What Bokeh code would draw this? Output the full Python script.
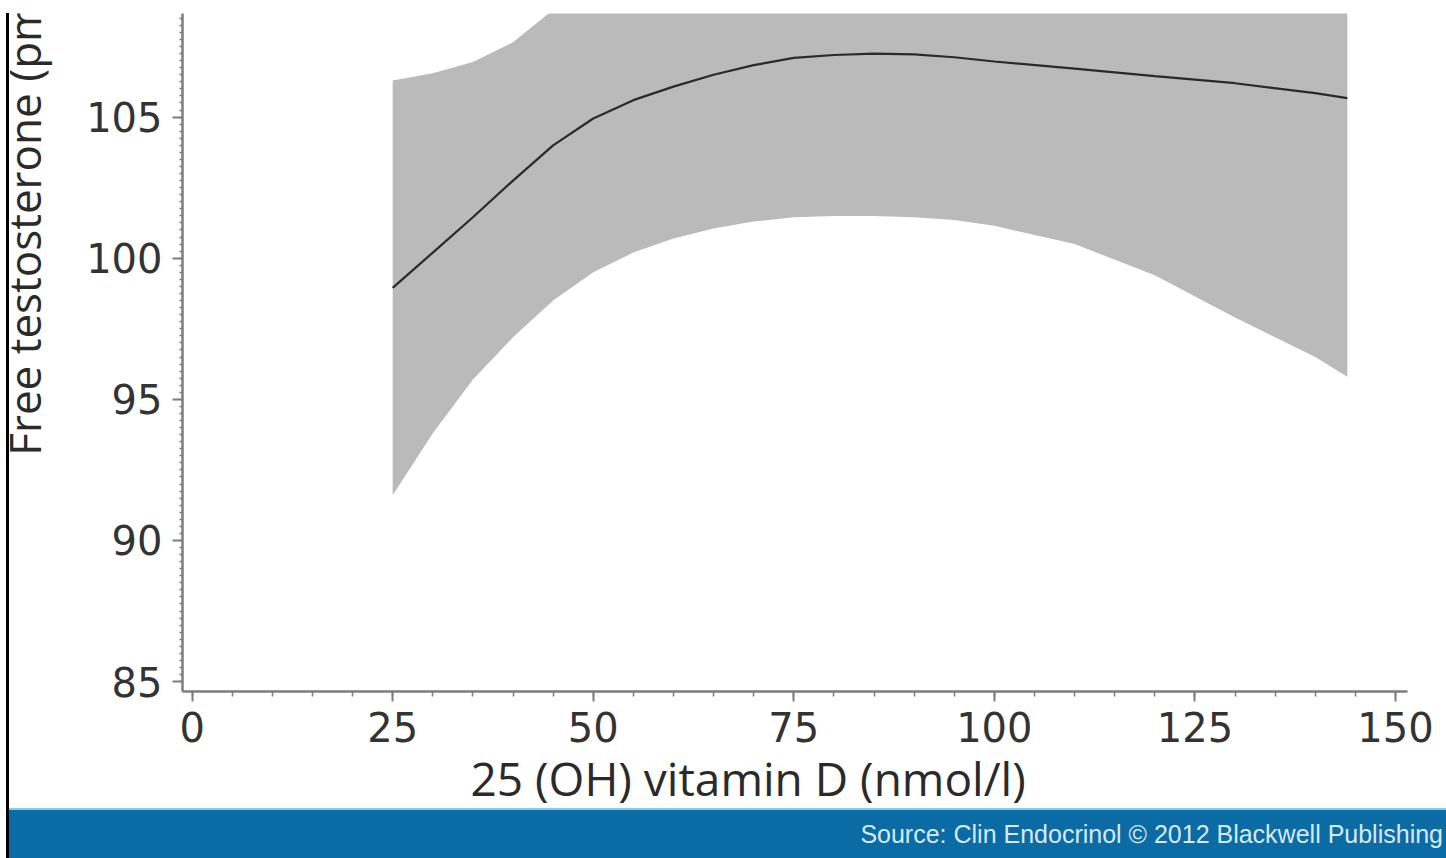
import math
from bokeh.plotting import figure
from bokeh.models import Range1d, Div, FixedTicker, Title
from bokeh.core.properties import value
from bokeh.layouts import row, column
from bokeh.embed import file_html
from bokeh.resources import INLINE

# ---- data ----
vitd = [25, 30, 35, 40, 45, 50, 55, 60, 65, 70, 75, 80, 85, 90, 95, 100, 110, 120, 130, 140, 144]
free_t = [98.95, 100.2, 101.45, 102.75, 104.0, 104.95, 105.6, 106.08, 106.5, 106.84, 107.1, 107.2,
          107.25, 107.22, 107.12, 106.97, 106.72, 106.45, 106.2, 105.85, 105.67]
ci_lower = [91.6, 93.8, 95.7, 97.2, 98.5, 99.5, 100.2, 100.7, 101.05, 101.3, 101.45, 101.5,
            101.5, 101.45, 101.35, 101.15, 100.5, 99.4, 97.9, 96.5, 95.8]
ci_upper = [106.3, 106.55, 106.95, 107.65, 108.8, 109.6, 110.2, 110.6, 111.0, 111.3, 111.5, 111.6,
            111.6, 111.5, 111.4, 111.3, 111.5, 112.2, 113.2, 114.5, 115.0]
x_ticks = [0, 25, 50, 75, 100, 125, 150]
y_ticks = [85, 90, 95, 100, 105]
x_minor = list(range(0, 151, 5))
y_minor = [85 + 0.25 * i for i in range(0, 96)]

x_title = "25 (OH) vitamin D (nmol/l)"
y_title = "Free testosterone (pmol/l)"
source_text = "Source: Clin Endocrinol \u00a9 2012 Blackwell Publishing"

LABEL_W = 50
MAIN_W = 1437 - LABEL_W
FIG_H = 795

x_rng = Range1d(-1.2, 151.5)
y_rng = Range1d(84.65, 108.67)

# ---- main plot ----
p = figure(width=MAIN_W, height=FIG_H, x_range=x_rng, y_range=y_rng,
           output_backend="svg", toolbar_location=None,
           min_border_left=123, min_border_right=39, min_border_top=0, min_border_bottom=115)
p.grid.visible = False
p.outline_line_color = None
p.background_fill_color = "white"
p.border_fill_color = "white"

p.varea(x=vitd, y1=ci_lower, y2=ci_upper, fill_color="#bababa", fill_alpha=1.0)
p.line(vitd, free_t, line_color="#2a2a2a", line_width=2.2)

axis_gray = "#7c7c7c"
for ax in (p.xaxis[0], p.yaxis[0]):
    ax.axis_line_color = axis_gray
    ax.axis_line_width = 2.5
    ax.major_tick_line_color = axis_gray
    ax.major_tick_line_width = 2
    ax.minor_tick_line_color = axis_gray
    ax.minor_tick_line_width = 1.5
    ax.major_tick_in = 0
    ax.major_tick_out = 10
    ax.minor_tick_in = 0
    ax.major_label_text_font = "DejaVu Sans"
    ax.major_label_text_font_size = "40px"
    ax.major_label_text_color = "#333333"
    ax.major_label_standoff = 10

p.xaxis[0].ticker = FixedTicker(ticks=x_ticks, minor_ticks=x_minor)
p.yaxis[0].ticker = FixedTicker(ticks=y_ticks, minor_ticks=y_minor)
p.xaxis[0].minor_tick_out = 5
p.yaxis[0].minor_tick_out = 3

xt = Title(text=x_title, align="left", offset=288, standoff=0,
           text_font="Open Sans", text_font_size="46px", text_font_style="normal",
           text_color="#2a2a2a")
p.add_layout(xt, "below")

# ---- narrow strip holding the rotated y title (clipped at the top like the reference) ----
pl = figure(width=LABEL_W, height=FIG_H, x_range=Range1d(0, LABEL_W), y_range=y_rng,
            output_backend="svg", toolbar_location=None, x_axis_type=None, y_axis_type=None,
            min_border=0, min_border_left=0, min_border_right=0, min_border_top=0,
            min_border_bottom=0)
pl.grid.visible = False
pl.outline_line_color = None
pl.text(x=[14], y=[93.0], text=[y_title], angle=math.pi / 2, text_align="left",
        text_baseline="middle", text_font=value("Open Sans"), text_font_size=value("44px"),
        text_color="#2a2a2a")

line_div = Div(text="", width=3, height=845, margin=0,
               styles={"background-color": "#000000"})
banner = Div(text=source_text, width=1437, height=50, margin=0,
             styles={"background-color": "#0b6ba4", "color": "#d6eaf6",
                     "font-family": "'Liberation Sans', Arial, sans-serif",
                     "font-size": "25px", "text-align": "right", "line-height": "48px",
                     "padding-right": "3px", "border-top": "2px solid #86cde6",
                     "box-sizing": "border-box", "white-space": "nowrap", "overflow": "hidden"})

p.margin = 0
pl.margin = 0
layout = row(line_div,
             column(row(pl, p, spacing=0), banner, spacing=0),
             spacing=0, margin=(13, 0, 0, 6))

open("out.html", "w").write(file_html(layout, INLINE, title="chart"))
